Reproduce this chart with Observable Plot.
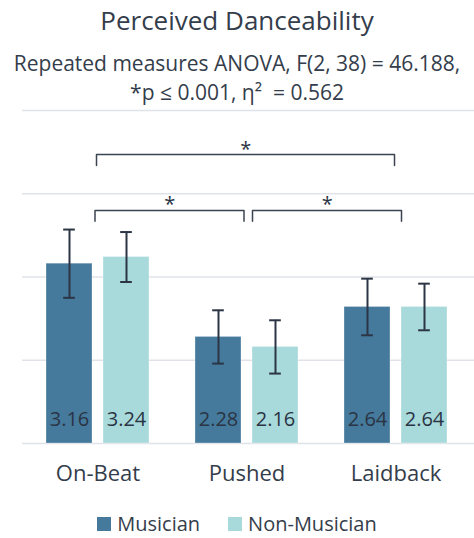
<!DOCTYPE html>
<html><head><meta charset="utf-8">
<script src="https://cdn.jsdelivr.net/npm/d3@7"></script>
<script src="https://cdn.jsdelivr.net/npm/@observablehq/plot@0.6"></script>
<style>
body{margin:0;background:#fff;font-family:"Open Sans",sans-serif;color:#343d4b;width:474px;overflow:hidden;}
#header{position:relative;height:106px;}
#title{position:absolute;left:0;right:0;top:5px;text-align:center;font-size:26px;line-height:30px;white-space:nowrap;}
#subtitle{position:absolute;left:-10px;right:-10px;top:49px;text-align:center;font-size:21px;line-height:29px;white-space:nowrap;}
#chart svg{display:block;}
#legend{display:flex;justify-content:center;align-items:center;margin-top:23px;height:20px;line-height:20px;font-size:20px;}
.sw{width:14px;height:14px;display:inline-block;margin-right:6px;}
.item{display:flex;align-items:center;margin:0 14px;}
</style></head>
<body>
<div id="header"><div id="title">Perceived Danceability</div><div id="subtitle">Repeated measures ANOVA, F(2, 38) = 46.188,<br>*p ≤ 0.001, η² &nbsp;= 0.562</div></div>
<div id="chart"></div>
<div id="legend"></div>
<script>
const groups = ["On-Beat", "Pushed", "Laidback"];
const series = ["Musician", "Non-Musician"];
const musicianMeans = [3.16, 2.28, 2.64];
const nonMusicianMeans = [3.24, 2.16, 2.64];
const musicianErr = [0.41, 0.32, 0.34];
const nonMusicianErr = [0.30, 0.32, 0.28];
const yTicks = [1, 2, 3, 4, 5];
const brackets = [
  {from: "On-Beat", to: "Laidback", level: 4.47},
  {from: "On-Beat", to: "Pushed", level: 3.80},
  {from: "Pushed", to: "Laidback", level: 3.80}
];
const bracketDrop = 0.13;
const colors = ["#457a9c", "#a9dadb"];

const W = 474, H = 385, ML = 22, MR = 4, MT = 4, MB = 48;
const step = (W - ML - MR) / groups.length;
const rows = groups.flatMap((g, i) => [
  {group: g, series: series[0], mean: musicianMeans[i], err: musicianErr[i]},
  {group: g, series: series[1], mean: nonMusicianMeans[i], err: nonMusicianErr[i]}
]);

// layout of bars inside each group band (pixels)
const insets = {[series[0]]: [23, 80], [series[1]]: [80, 23]};
const capHalf = 6;
const dark = "#2b3545";

const marks = [
  Plot.ruleY(yTicks, {y: d => d, stroke: "#dfe3e9", strokeWidth: 1.6, insetRight: -MR})
];
series.forEach((s, k) => {
  const data = rows.filter(d => d.series === s);
  const [il, ir] = insets[s];
  const center = (il + (step - ir)) / 2;
  const off = center - step / 2;
  marks.push(
    Plot.barY(data, {x: "group", y1: 1, y2: "mean", fill: colors[k], stroke: "#ffffff", strokeOpacity: 0.3, strokeWidth: 1, insetLeft: il, insetRight: ir}),
    Plot.ruleX(data, {x: "group", y1: d => d.mean - d.err, y2: d => d.mean + d.err, dx: off, stroke: dark, strokeWidth: 2}),
    Plot.tickY(data, {x: "group", y: d => d.mean + d.err, insetLeft: center - capHalf, insetRight: step - center - capHalf, stroke: dark, strokeWidth: 2}),
    Plot.tickY(data, {x: "group", y: d => d.mean - d.err, insetLeft: center - capHalf, insetRight: step - center - capHalf, stroke: dark, strokeWidth: 2}),
    Plot.text(data, {x: "group", y: 1, text: d => d.mean.toFixed(2), dx: off, dy: -18, lineAnchor: "bottom", fontSize: 20, fill: "#2a3444"})
  );
});
const bracketDx = [-1.5, -3, 5.5];
brackets.forEach((b, i) => {
  const pts = [
    {x: b.from, y: b.level - bracketDrop},
    {x: b.from, y: b.level},
    {x: b.to, y: b.level},
    {x: b.to, y: b.level - bracketDrop}
  ];
  const span = groups.indexOf(b.to) - groups.indexOf(b.from);
  marks.push(
    Plot.line(pts, {x: "x", y: "y", stroke: "#3b4450", strokeWidth: 1.5, dx: bracketDx[i]}),
    Plot.text([b], {x: "from", y: "level", text: () => "*", dx: span * step / 2 + bracketDx[i], dy: 1, lineAnchor: "bottom", fontSize: 20, fill: "#2a3444"})
  );
});

const chart = Plot.plot({
  width: W, height: H,
  marginLeft: ML, marginRight: MR, marginTop: MT, marginBottom: MB,
  style: {fontFamily: "Open Sans", fontSize: "22px", color: "#343d4b", background: "white", overflow: "visible"},
  x: {domain: groups, padding: 0, tickSize: 0, tickPadding: 22, label: null},
  y: {domain: [1, 5], axis: null},
  marks
});
document.getElementById("chart").appendChild(chart);

const legend = document.getElementById("legend");
series.forEach((s, k) => {
  const item = document.createElement("div");
  item.className = "item";
  const sw = document.createElement("span");
  sw.className = "sw";
  sw.style.background = colors[k];
  const t = document.createElement("span");
  t.textContent = s;
  item.appendChild(sw); item.appendChild(t);
  legend.appendChild(item);
});
</script>
</body></html>
